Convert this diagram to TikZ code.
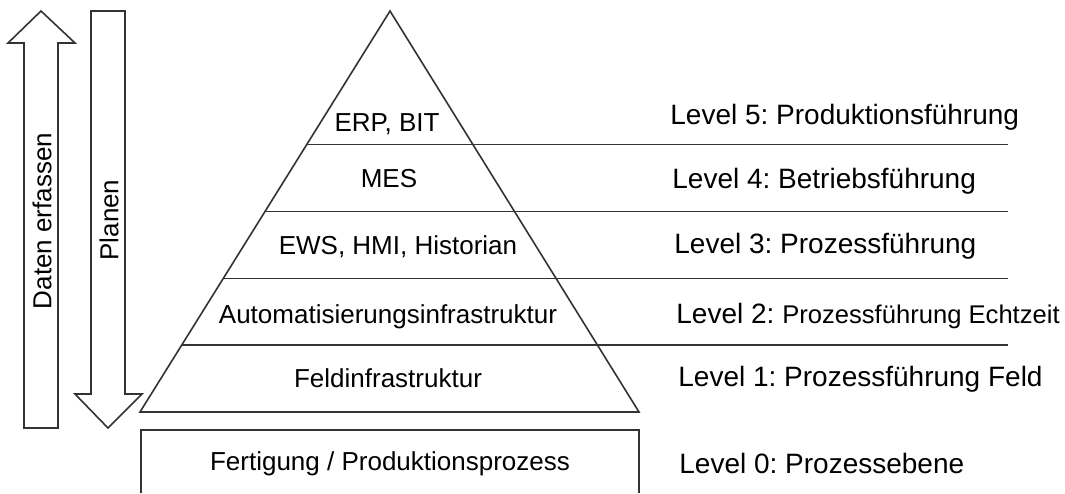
\documentclass[tikz,border=0pt]{standalone}
\usepackage{fontspec}
\setmainfont{Liberation Sans}
\frenchspacing
\usetikzlibrary{calc}
\tikzset{
  outline/.style={draw=black!80,line width=0.8pt,line join=miter},
  tier/.style={font=\fontsize{13}{15}\selectfont,anchor=base,inner sep=0pt},
  level/.style={font=\fontsize{14}{16}\selectfont,anchor=base west,inner sep=0pt},
  flow/.style={font=\fontsize{13}{15}\selectfont,rotate=90,inner sep=0pt}
}

\begin{document}
\begin{tikzpicture}[x=0.5pt,y=-0.5pt]
  \useasboundingbox (0,0) rectangle (1065,493);
  % block arrows on the left
  \draw[outline] (41,11) -- (75,43) -- (58,43) -- (58,428) -- (24,428) -- (24,43) -- (8,43) -- cycle;
  \draw[outline] (91,11) -- (125,11) -- (125,394) -- (142,394) -- (108,428) -- (75,394) -- (91,394) -- cycle;
  \node[flow] (daten) at (42,221) {Daten erfassen};
  \node[flow] (planen) at (109,220) {Planen};
  % pyramid
  \coordinate (apex) at (390,11);
  \coordinate (bl) at (140,412);
  \coordinate (br) at (639,412);
  \coordinate (rim) at (1008,0);
  \draw[outline] (apex) -- (br) -- (bl) -- cycle;
  \foreach \k in {2,...,5}{
    \draw[outline] ($(apex)!\k/6!(bl)$) coordinate (band\k) -- (band\k -| rim);
  }
  \node[tier] (erp) at (387,131) {ERP, BIT};
  \node[tier] (mes) at (389,187) {MES};
  \node[tier] (ews) at (398,254) {EWS, HMI, Historian};
  \node[tier] (auto) at (388,323) {Automatisierungsinfrastruktur};
  \node[tier] (feld) at (388,387) {Feldinfrastruktur};
  % process box
  \draw[outline] (141,493) -- (141,430) -- (639,430) -- (639,493);
  \node[tier] (prozess) at (390,470) {Fertigung / Produktionsprozess};
  % level labels
  \node[level] (lvl5) at (670,124) {Level 5: Produktionsführung};
  \node[level] (lvl4) at (672,188) {Level 4: Betriebsführung};
  \node[level] (lvl3) at (674,253) {Level 3: Prozessführung};
  \node[level] (lvl2) at (676,323) {Level 2: {\fontsize{12.8}{15}\selectfont Prozessführung Echtzeit}};
  \node[level] (lvl1) at (678,386) {Level 1: Prozessführung Feld};
  \node[level] (lvl0) at (679,473) {Level 0: Prozessebene};
\end{tikzpicture}
\end{document}
